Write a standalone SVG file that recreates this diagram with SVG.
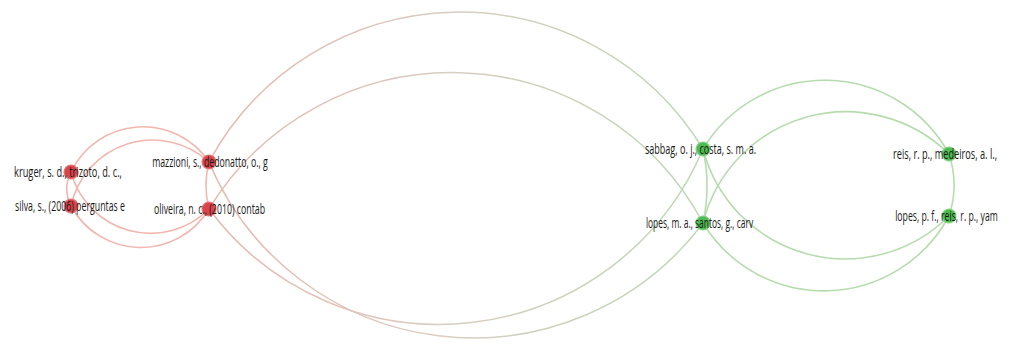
<svg xmlns="http://www.w3.org/2000/svg" width="1009" height="361" viewBox="0 0 1009 361">
<style>
.lbl{font-family:"Open Sans","Liberation Sans",sans-serif;font-size:14.5px;fill:#1a1a1a;text-anchor:middle}
.er{fill:none;stroke:#f1b6ae;stroke-width:1.6}
.eg{fill:none;stroke:#b6dcae;stroke-width:1.6}
.ex{fill:none;stroke-width:1.5}
.nr{fill:#d9434a;stroke:#e4777b;stroke-width:1.2}
.ng{fill:#4fba4f;stroke:#86d386;stroke-width:1.2}
</style>
<defs>
<linearGradient id="gx" gradientUnits="userSpaceOnUse" x1="209" y1="0" x2="703" y2="0">
<stop offset="0" stop-color="#e6b9b0"/>
<stop offset="0.5" stop-color="#d8cdc2"/>
<stop offset="1" stop-color="#bcd8b3"/>
</linearGradient>
</defs>
<rect width="1009" height="361" fill="#ffffff"/>
<g id="connectors">
<path class="er" d="M71,172 A38,38 0 0 0 71,206"/>
<path class="er" d="M209,162 A93.5,93.5 0 0 0 209,209"/>
<path class="er" d="M71,172 A79.7,79.7 0 0 1 209,162"/>
<path class="er" d="M71,206 A83.4,83.4 0 0 1 209,162"/>
<path class="er" d="M71,172 A82.3,82.3 0 0 0 209,209"/>
<path class="er" d="M71,206 A79.5,79.5 0 0 0 209,209"/>
<path class="ex" stroke="url(#gx)" d="M209,162 A284.6,284.6 0 0 1 703,149"/>
<path class="ex" stroke="url(#gx)" d="M209,209 A284.6,284.6 0 0 1 703,223"/>
<path class="ex" stroke="url(#gx)" d="M209,162 A286.7,286.7 0 0 0 703,223"/>
<path class="ex" stroke="url(#gx)" d="M209,209 A286.6,286.6 0 0 0 703,149"/>
<path class="eg" d="M703,149 A173,173 0 0 1 703,223"/>
<path class="eg" d="M949,154 A98.6,98.6 0 0 1 949,216"/>
<path class="eg" d="M703,149 A141.8,141.8 0 0 1 949,154"/>
<path class="eg" d="M703,223 A147.2,147.2 0 0 1 949,154"/>
<path class="eg" d="M703,149 A146.9,146.9 0 0 0 949,216"/>
<path class="eg" d="M703,223 A141.8,141.8 0 0 0 949,216"/>
</g>
<g id="kruger"><circle class="nr" cx="71" cy="172" r="7"/><text class="lbl" transform="translate(68,177) scale(0.65,1)" textLength="166" lengthAdjust="spacingAndGlyphs">kruger, s. d., trizoto, d. c.,</text></g>
<g id="silva"><circle class="nr" cx="71" cy="206" r="7"/><text class="lbl" transform="translate(70,211) scale(0.65,1)" textLength="169" lengthAdjust="spacingAndGlyphs">silva, s., (2006) perguntas e</text></g>
<g id="mazzioni"><circle class="nr" cx="209" cy="162" r="7"/><text class="lbl" transform="translate(210,167) scale(0.65,1)" textLength="178" lengthAdjust="spacingAndGlyphs">mazzioni, s., dedonatto, o., g</text></g>
<g id="oliveira"><circle class="nr" cx="209" cy="209" r="7"/><text class="lbl" transform="translate(209.5,214) scale(0.65,1)" textLength="171" lengthAdjust="spacingAndGlyphs">oliveira, n. c., (2010) contab</text></g>
<g id="sabbag"><circle class="ng" cx="703" cy="149" r="7"/><text class="lbl" transform="translate(700.5,154) scale(0.65,1)" textLength="171" lengthAdjust="spacingAndGlyphs">sabbag, o. j., costa, s. m. a.</text></g>
<g id="lopes-ma"><circle class="ng" cx="703" cy="223" r="7"/><text class="lbl" transform="translate(699.5,228) scale(0.65,1)" textLength="165" lengthAdjust="spacingAndGlyphs">lopes, m. a., santos, g., carv</text></g>
<g id="reis"><circle class="ng" cx="949" cy="154" r="7"/><text class="lbl" transform="translate(945,159) scale(0.65,1)" textLength="160" lengthAdjust="spacingAndGlyphs">reis, r. p., medeiros, a. l.,</text></g>
<g id="lopes-pf"><circle class="ng" cx="949" cy="216" r="7"/><text class="lbl" transform="translate(946.5,221) scale(0.65,1)" textLength="158" lengthAdjust="spacingAndGlyphs">lopes, p. f., reis, r. p., yam</text></g>
</svg>
